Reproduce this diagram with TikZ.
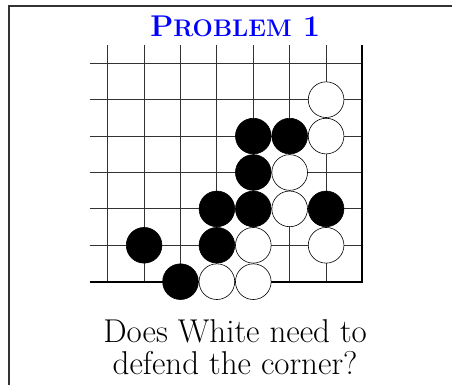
\documentclass[tikz,border=0pt]{standalone}
\usetikzlibrary{positioning}
\newcommand{\smc}[1]{{\fontsize{24}{24}\selectfont #1}}
\tikzset{
  grid/.style  = {draw=black!80, line width=0.8pt},
  edge/.style  = {draw=black, line width=2pt},
  frame/.style = {draw=black!80, line width=1.2pt},
  bs/.style    = {fill=black, draw=black, line width=0.6pt},
  ws/.style    = {fill=white, draw=black, line width=0.6pt},
  ttl/.style   = {font=\fontsize{30}{30}\selectfont\bfseries,
                  text=blue, inner sep=0pt, anchor=base},
  qst/.style   = {font=\fontsize{33}{32}\selectfont, align=center,
                  inner sep=0pt, anchor=base},
}

\begin{document}
\begin{tikzpicture}[x=36.4pt, y=36.4pt]
  \useasboundingbox (-2.959,-2.838) rectangle (9.459,7.739);

  % ===== frame ==========================================================
  \draw[frame] (-2.712,-2.9) -- (-2.712,7.574) -- (9.6,7.574);

  % ===== board ==========================================================
  \foreach \c in {0,...,6}
    \draw[grid] (\c,0) -- (\c,6.5);
  \foreach \r in {1,...,6}
    \draw[grid] (-0.5,\r) -- (7,\r);
  \draw[edge] (-0.5,0) -- (7,0) -- (7,6.5);

  % ===== stones =========================================================
  \foreach \c/\r in {4/4, 5/4, 4/3, 3/2, 4/2, 6/2, 1/1, 3/1, 2/0}
    \filldraw[bs] (\c,\r) circle (0.49);
  \foreach \c/\r in {6/5, 6/4, 5/3, 5/2, 4/1, 6/1, 3/0, 4/0}
    \filldraw[ws] (\c,\r) circle (0.49);

  % ===== texts ==========================================================
  \node[ttl] (title) at (3.5,6.731) {P\smc{ROBLEM} 1};
  \node[qst] (question) at (3.5,-2.563) {Does White need to\\
                                          defend the corner?};

\end{tikzpicture}
\end{document}
